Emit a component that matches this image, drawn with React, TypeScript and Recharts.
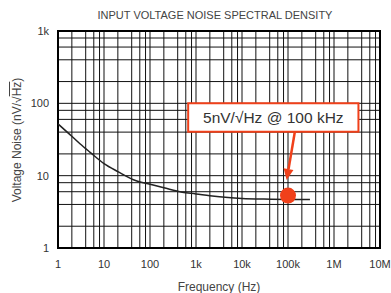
import { LineChart, Line, XAxis, YAxis, CartesianGrid, ReferenceArea, ReferenceDot, ReferenceLine, Label } from 'recharts';

// noise curve
const freqHz = [1, 2, 3, 5, 10, 20, 50, 100, 200, 500, 1000, 2000, 5000, 10000, 30000, 100000, 300000];
const noiseNv = [52, 35, 27.6, 21, 14.7, 11.4, 8.5, 7.6, 6.8, 5.9, 5.6, 5.28, 4.98, 4.85, 4.75, 4.7, 4.7];

const xDecades = [1, 10, 100, 1000, 10000, 100000, 1000000, 10000000];
const xDecadeLabels = ['1', '10', '100', '1k', '10k', '100k', '1M', '10M'];
const yDecades = [1, 10, 100, 1000];
const yDecadeLabels = ['1', '10', '100', '1k'];
const minorSteps = [2, 4, 6, 8];

const markerFreq = 100000;
const markerNoise = 5.3;
const noteText = '5nV/\u221AHz @ 100 kHz';

const RED = '#f0401a';
const INK = '#333333';

const withMinor = (decades: number[]) => {
  const out: number[] = [];
  decades.forEach((d, i) => {
    out.push(d);
    if (i < decades.length - 1) minorSteps.forEach((m) => out.push(d * m));
  });
  return out;
};

const data = freqHz.map((f, i) => ({ f, v: noiseNv[i] }));
const xTicks = withMinor(xDecades);
const yTicks = withMinor(yDecades);

const xLabel = (v: number) => {
  const i = xDecades.indexOf(v);
  return i >= 0 ? xDecadeLabels[i] : '';
};
const yLabel = (v: number) => {
  const i = yDecades.indexOf(v);
  return i >= 0 ? yDecadeLabels[i] : '';
};

const Arrow = (props: any) => {
  const { x1, y1, x2, y2 } = props;
  if ([x1, y1, x2, y2].some((n) => n == null || isNaN(n))) return null;
  const dx = x2 - x1;
  const dy = y2 - y1;
  const len = Math.sqrt(dx * dx + dy * dy);
  const ux = dx / len;
  const uy = dy / len;
  const head = 11;
  const bx = x2 - ux * head;
  const by = y2 - uy * head;
  const px = -uy * 5;
  const py = ux * 5;
  return (
    <g>
      <line x1={x1} y1={y1} x2={bx} y2={by} stroke={RED} strokeWidth={2.5} />
      <polygon points={`${x2},${y2} ${bx + px},${by + py} ${bx - px},${by - py}`} fill={RED} />
    </g>
  );
};

export default function App() {
  return (
    <div style={{ position: 'absolute', left: 0, top: 0, width: 391, height: 293, background: '#fff', fontFamily: '"Liberation Sans", Arial, sans-serif' }}>
      <div style={{ position: 'absolute', left: 0, width: 430, top: 9, textAlign: 'center', fontSize: 11, color: '#444' }}>
        INPUT VOLTAGE NOISE SPECTRAL DENSITY
      </div>
      <div
        style={{
          position: 'absolute',
          left: 17,
          top: 140,
          transform: 'translate(-50%, -50%) rotate(-90deg)',
          whiteSpace: 'nowrap',
          fontSize: 12,
          color: '#444',
        }}
      >
        Voltage Noise (nV/{'\u221A'}<span style={{ textDecoration: 'overline' }}>Hz</span>)
      </div>
      <LineChart width={391} height={293} data={data} margin={{ top: 31, right: 11, bottom: 0, left: 0 }}>
        <CartesianGrid stroke="#111" strokeWidth={1} />
        <XAxis
          dataKey="f"
          type="number"
          scale="log"
          domain={[1, 10000000]}
          ticks={xTicks}
          interval={0}
          tickFormatter={xLabel}
          tickLine={false}
          axisLine={false}
          tickSize={0}
          tickMargin={12}
          height={45}
          tick={{ fill: INK, fontSize: 11 }}
          allowDataOverflow
        >
          <Label value="Frequency (Hz)" position="insideBottom" offset={2} fill="#444" fontSize={12} />
        </XAxis>
        <YAxis
          type="number"
          scale="log"
          domain={[1, 1000]}
          ticks={yTicks}
          interval={0}
          tickFormatter={yLabel}
          tickLine={false}
          axisLine={false}
          tickSize={0}
          tickMargin={9}
          width={58}
          tick={{ fill: INK, fontSize: 11 }}
          allowDataOverflow
        />
        <ReferenceArea x1={1} x2={10000000} y1={1} y2={1000} fill="none" stroke="#000" strokeWidth={2} />
        <Line dataKey="v" type="monotone" stroke="#222" strokeWidth={1.5} dot={false} isAnimationActive={false} />
        <ReferenceArea
          x1={676}
          x2={3400000}
          y1={40.4}
          y2={100}
          fill="#fff"
          fillOpacity={1}
          stroke={RED}
          strokeWidth={2}
          label={{ value: noteText, position: 'center', fill: INK, fontSize: 15.5 }}
        />
        <ReferenceLine
          segment={[
            { x: 141000, y: 40.4 },
            { x: 93500, y: 8.7 },
          ]}
          shape={Arrow}
        />
        <ReferenceDot x={markerFreq} y={markerNoise} r={8} fill={RED} stroke="none" />
      </LineChart>
    </div>
  );
}
